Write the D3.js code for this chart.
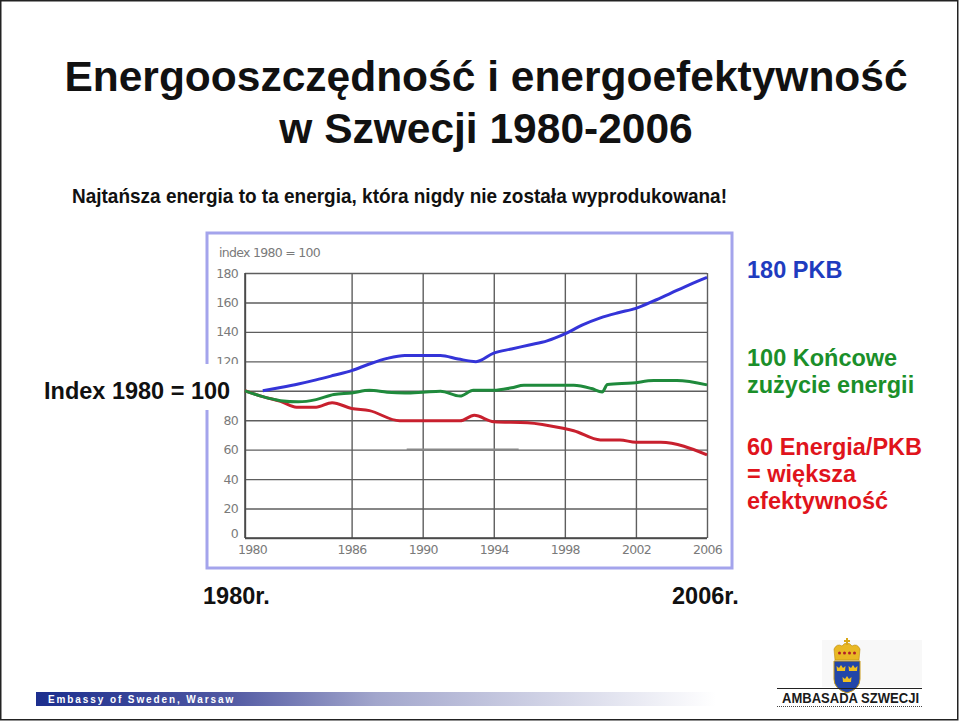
<!DOCTYPE html>
<html>
<head>
<meta charset="utf-8">
<script src="https://cdn.jsdelivr.net/npm/d3@7"></script>
<style>
  body { margin: 0; background: #fff; }
  svg { display: block; font-family: "Liberation Sans", Arial, sans-serif; }
</style>
</head>
<body>
<svg id="slide" width="960" height="723"></svg>
<script>
// dane (indeks 1980 = 100)
const xTicks = [1980, 1986, 1990, 1994, 1998, 2002, 2006];
const yTicks = [0, 20, 40, 60, 80, 100, 120, 140, 160, 180];

// PKB
const gdpYears = [1981, 1982, 1983, 1984, 1985, 1986, 1987, 1988, 1989, 1990, 1991, 1992, 1993, 1994, 1995, 1996, 1997, 1998, 1999, 2000, 2001, 2002, 2003, 2004, 2005, 2006];
const gdpValues = [100, 102.2, 104.6, 107.4, 110.5, 113.7, 118.2, 122, 124, 124, 124, 121.6, 119.8, 125.6, 128.4, 131.1, 133.9, 138.6, 144.7, 149.5, 153, 156, 161, 166.5, 172, 177];

// końcowe zużycie energii
const energyYears = [1980, 1981, 1982, 1983, 1984, 1985, 1986, 1987, 1988, 1989, 1990, 1991, 1992.1, 1992.85, 1994, 1995, 1995.7, 1998.5, 1999.5, 2000.1, 2000.4, 2001.8, 2003, 2004.3, 2006];
const energyValues = [100, 96, 93.3, 92.5, 94, 97.5, 98.5, 100.3, 99, 98.5, 99, 99.7, 96.4, 100.3, 100.3, 102, 103.7, 103.7, 101.5, 99.2, 104.2, 105.3, 106.9, 106.9, 104];

// energia / PKB
const intensityYears = [1980, 1981, 1982, 1982.9, 1984, 1984.9, 1986, 1987, 1988.7, 1992.1, 1992.9, 1994, 1995.9, 1997.9, 1998.5, 2000, 2001.1, 2002, 2003.4, 2006];
const intensityValues = [100, 96, 92.8, 88.8, 88.8, 91.9, 88, 86.5, 79.6, 79.6, 83.3, 79, 78.3, 74.5, 72.9, 66.6, 66.6, 65, 65, 56.5];

const svg = d3.select("#slide");

// ramka slajdu
svg.append("rect")
  .attr("x", 0.75).attr("y", 0.75)
  .attr("width", 957).attr("height", 719)
  .attr("fill", "none").attr("stroke", "#222").attr("stroke-width", 1.5);

// tytuł
svg.append("text")
  .attr("x", 486).attr("y", 91)
  .attr("text-anchor", "middle")
  .attr("font-size", 42.5).attr("font-weight", "bold").attr("fill", "#111")
  .text("Energooszczędność i energoefektywność");
svg.append("text")
  .attr("x", 486).attr("y", 143)
  .attr("text-anchor", "middle")
  .attr("font-size", 42.5).attr("font-weight", "bold").attr("fill", "#111")
  .text("w Szwecji 1980-2006");
svg.append("text")
  .attr("x", 72).attr("y", 203)
  .attr("font-size", 20.5).attr("font-weight", "bold").attr("fill", "#111")
  .attr("textLength", 655).attr("lengthAdjust", "spacingAndGlyphs")
  .text("Najtańsza energia to ta energia, która nigdy nie została wyprodukowana!");

// ramka obrazka z wykresem
svg.append("rect")
  .attr("x", 207).attr("y", 233)
  .attr("width", 525).attr("height", 335)
  .attr("fill", "#fff").attr("stroke", "#a4a4ec").attr("stroke-width", 3);

// skale
const x = d3.scaleLinear().domain([1980, 2006]).range([245, 707]);
const y = d3.scaleLinear().domain([0, 180]).range([538, 273]);

const gridColor = "#5e5e5e";
const tickColor = "#7a7a7a";
const tickFont = "'DejaVu Sans', sans-serif";

// oś Y z liniami siatki (etykietę 100 zasłania napis "Index 1980 = 100")
const yAxis = svg.append("g")
  .attr("transform", `translate(${x(1980)},0)`)
  .call(d3.axisLeft(y).tickValues(yTicks).tickSize(-(x(2006) - x(1980))).tickPadding(7)
    .tickFormat(d => d === 100 ? "" : d));
yAxis.select(".domain").remove();
yAxis.selectAll("line").attr("stroke", gridColor).attr("stroke-width", 1.4);
yAxis.selectAll("text")
  .attr("fill", tickColor).attr("font-size", 12.5)
  .attr("font-family", tickFont).attr("letter-spacing", -0.7);
yAxis.selectAll(".tick").filter(d => d === 0).select("text")
  .attr("dy", "-0.05em");

// oś X z liniami siatki
const xAxis = svg.append("g")
  .attr("transform", `translate(0,${y(0)})`)
  .call(d3.axisBottom(x).tickValues(xTicks).tickSize(-(y(0) - y(180))).tickPadding(7).tickFormat(d3.format("d")));
xAxis.select(".domain").remove();
xAxis.selectAll("line").attr("stroke", gridColor).attr("stroke-width", 1.4);
xAxis.selectAll("text")
  .attr("fill", tickColor).attr("font-size", 12.5)
  .attr("font-family", tickFont).attr("letter-spacing", -0.7);
xAxis.selectAll(".tick").filter(d => d === 1980).select("text")
  .attr("x", 7);

// ciemniejszy fragment linii 60 na oryginale
svg.append("line")
  .attr("x1", x(1989.1)).attr("x2", x(1995.4))
  .attr("y1", y(60)).attr("y2", y(60))
  .attr("stroke", "#888").attr("stroke-width", 2.4);

// oś lewa i dolna
svg.append("line")
  .attr("x1", x(1980)).attr("x2", x(1980)).attr("y1", y(0)).attr("y2", y(180))
  .attr("stroke", "#444").attr("stroke-width", 1.5);
svg.append("line")
  .attr("x1", x(1980)).attr("x2", x(2006)).attr("y1", y(0)).attr("y2", y(0))
  .attr("stroke", "#444").attr("stroke-width", 1.5);

svg.append("text")
  .attr("x", 219).attr("y", 257)
  .attr("fill", tickColor).attr("font-size", 12.5)
  .attr("font-family", tickFont).attr("letter-spacing", -0.7)
  .text("index 1980 = 100");

// serie
const line = d3.line()
  .x(d => x(d[0]))
  .y(d => y(d[1]))
  .curve(d3.curveMonotoneX);

const series = [
  { years: intensityYears, values: intensityValues, color: "#c8202e" },
  { years: energyYears, values: energyValues, color: "#1f8a3c" },
  { years: gdpYears, values: gdpValues, color: "#3434d8" }
];

svg.selectAll("path.series")
  .data(series)
  .enter()
  .append("path")
  .attr("class", "series")
  .attr("d", d => line(d.years.map((yr, i) => [yr, d.values[i]])))
  .attr("fill", "none")
  .attr("stroke", d => d.color)
  .attr("stroke-width", 3)
  .attr("stroke-linejoin", "round");

// podpis po lewej (z białym tłem na ramce)
svg.append("rect")
  .attr("x", 38).attr("y", 364).attr("width", 202).attr("height", 46)
  .attr("fill", "#fff");
svg.append("text")
  .attr("x", 44).attr("y", 399)
  .attr("font-size", 23.5).attr("font-weight", "bold").attr("fill", "#111")
  .text("Index 1980 = 100");

// opisy po prawej
const notes = [
  { lines: ["180 PKB"], y: 278, color: "#1f3cbf" },
  { lines: ["100 Końcowe", "zużycie energii"], y: 366, color: "#1b8f2a" },
  { lines: ["60 Energia/PKB", "= większa", "efektywność"], y: 455, color: "#e0141c" }
];
notes.forEach(n => {
  const t = svg.append("text")
    .attr("x", 747).attr("y", n.y)
    .attr("font-size", 23.5).attr("font-weight", "bold").attr("fill", n.color);
  n.lines.forEach((l, i) => {
    t.append("tspan").attr("x", 747).attr("dy", i === 0 ? 0 : 27).text(l);
  });
});

// lata pod wykresem
svg.append("text")
  .attr("x", 203).attr("y", 604)
  .attr("font-size", 23.5).attr("font-weight", "bold").attr("fill", "#111")
  .text("1980r.");
svg.append("text")
  .attr("x", 672).attr("y", 604)
  .attr("font-size", 23.5).attr("font-weight", "bold").attr("fill", "#111")
  .text("2006r.");

// stopka
const defs = svg.append("defs");
const grad = defs.append("linearGradient").attr("id", "footerGrad");
grad.append("stop").attr("offset", "0%").attr("stop-color", "#1c2e8e");
grad.append("stop").attr("offset", "28%").attr("stop-color", "#5058a2");
grad.append("stop").attr("offset", "50%").attr("stop-color", "#a2a6cc");
grad.append("stop").attr("offset", "100%").attr("stop-color", "#ffffff");

svg.append("rect")
  .attr("x", 36).attr("y", 692).attr("width", 680).attr("height", 14)
  .attr("fill", "url(#footerGrad)");
svg.append("text")
  .attr("x", 48).attr("y", 703)
  .attr("font-size", 10).attr("font-weight", "bold").attr("fill", "#fff")
  .attr("letter-spacing", 1.9)
  .text("Embassy of Sweden, Warsaw");

// logo ambasady
const logo = svg.append("g");
logo.append("rect")
  .attr("x", 822).attr("y", 640).attr("width", 100).attr("height", 47)
  .attr("fill", "#f8f8f8");

// korona
logo.append("path")
  .attr("d", "M835,660 L834,649 Q837,643 842,646 Q845,642 847,644 Q849,642 852,646 Q857,643 860,649 L859,660 Z")
  .attr("fill", "#e9b824").attr("stroke", "#b88a10").attr("stroke-width", 0.6);
logo.append("rect").attr("x", 846).attr("y", 638).attr("width", 2).attr("height", 7).attr("fill", "#d9a818");
logo.append("rect").attr("x", 844).attr("y", 640).attr("width", 6).attr("height", 2).attr("fill", "#d9a818");
[839.5, 844.5, 849.5, 854.5].forEach(cx => {
  logo.append("circle").attr("cx", cx).attr("cy", 653).attr("r", 1.5).attr("fill", "#b0202a");
});

// tarcza
logo.append("path")
  .attr("d", "M834,661 L860,661 L860,679 Q860,689 847,693 Q834,689 834,679 Z")
  .attr("fill", "#2346a8").attr("stroke", "#c99a18").attr("stroke-width", 1);

function smallCrown(cx, cy) {
  logo.append("path")
    .attr("d", `M${cx - 4},${cy + 3} L${cx - 4.5},${cy - 2} L${cx - 2},${cy} L${cx},${cy - 3} L${cx + 2},${cy} L${cx + 4.5},${cy - 2} L${cx + 4},${cy + 3} Z`)
    .attr("fill", "#f0c020");
}
smallCrown(841, 668);
smallCrown(853, 668);
smallCrown(847, 679);

logo.append("line")
  .attr("x1", 777).attr("x2", 922).attr("y1", 688.5).attr("y2", 688.5)
  .attr("stroke", "#222").attr("stroke-width", 1);
logo.append("text")
  .attr("x", 782).attr("y", 703)
  .attr("font-family", "'Liberation Sans Narrow', 'Liberation Sans', Arial, sans-serif")
  .attr("font-size", 15).attr("font-weight", "bold").attr("fill", "#1a1a1a")
  .attr("textLength", 137).attr("lengthAdjust", "spacingAndGlyphs")
  .text("AMBASADA SZWECJI");
logo.append("line")
  .attr("x1", 777).attr("x2", 922).attr("y1", 706.5).attr("y2", 706.5)
  .attr("stroke", "#444").attr("stroke-width", 1.2).attr("stroke-dasharray", "1,1");
</script>
</body>
</html>
